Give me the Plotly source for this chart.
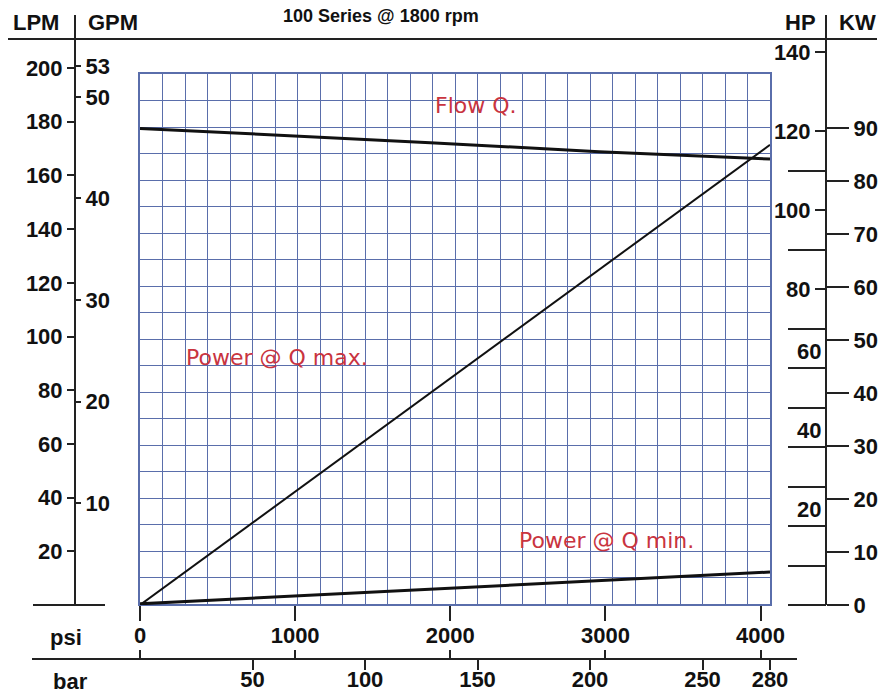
import plotly.graph_objects as go

W, H = 885, 699
def px(x): return x / W
def py(y): return 1 - y / H

# ---- data ----
flow_bar = [0, 129, 204, 280]
flow_lpm = [177.5, 172.2, 168.8, 166.1]
pmax_bar = [0, 280]
pmax_hp = [0, 116.5]
pmin_bar = [0, 280]
pmin_hp = [0.3, 8.35]

lpm_ticks = [20, 40, 60, 80, 100, 120, 140, 160, 180, 200]
gpm_ticks = [10, 20, 30, 40, 50, 53]
hp_ticks = [80, 100, 120, 140]
hp_under_ticks = [20, 40, 60]
hp_long_ticks = [0, 10, 20, 30, 40, 50, 60, 70, 90, 110]
kw_ticks = [0, 10, 20, 30, 40, 50, 60, 70, 80, 90]
psi_ticks = [0, 1000, 2000, 3000, 4000]
bar_ticks = [50, 100, 150, 200, 250, 280]

BAR_MAX = 280
PSI_PER_BAR = 14.5038
LPM_PER_GPM = 3.785
KW_PER_HP = 0.7457

GRID = "#5a6eab"
INK = "#222222"
RED = "#c9343f"
FONT = "Liberation Sans, Arial"
tickfont = dict(family=FONT, size=22, color="#111", weight="bold")

lpm_max = 200 * 590 / 537
hp_max = 590 / 3.95
side_dom = [py(605), py(15)]

fig = go.Figure()

# helper (invisible) traces so that every axis gets drawn
def anchor_trace(xa, ya):
    fig.add_trace(go.Scatter(x=[0], y=[0], xaxis=xa, yaxis=ya, mode="markers",
                             marker=dict(opacity=0, size=1), hoverinfo="skip",
                             showlegend=False))

for xa, ya in [("x", "y"), ("x2", "y"), ("x3", "y"), ("x4", "y"),
               ("x5", "y3"), ("x5", "y5"), ("x5", "y6"), ("x5", "y7")]:
    anchor_trace(xa, ya)

fig.add_trace(go.Scatter(x=flow_bar, y=flow_lpm, mode="lines", xaxis="x5", yaxis="y2",
                         line=dict(color="#111", width=3), name="Flow Q.", showlegend=False))
fig.add_trace(go.Scatter(x=pmax_bar, y=pmax_hp, mode="lines", xaxis="x5", yaxis="y4",
                         line=dict(color="#111", width=2), name="Power @ Q max.", showlegend=False))
fig.add_trace(go.Scatter(x=pmin_bar, y=pmin_hp, mode="lines", xaxis="x5", yaxis="y4",
                         line=dict(color="#111", width=3), name="Power @ Q min.", showlegend=False))

common = dict(automargin=False, showgrid=False, zeroline=False)

fig.update_layout(
    width=W, height=H, margin=dict(l=0, r=0, t=0, b=0),
    paper_bgcolor="white", plot_bgcolor="rgba(0,0,0,0)",
    showlegend=False,
    # grid
    xaxis=dict(domain=[px(140), px(770)], range=[0, BAR_MAX], dtick=10, tick0=0,
               showgrid=True, gridcolor=GRID, gridwidth=1.4, showticklabels=False,
               ticks="", zeroline=False, showline=True, mirror=True, linecolor=GRID,
               linewidth=1.5, anchor="y", automargin=False),
    yaxis=dict(domain=[py(604), py(74)], range=[0, 200], dtick=10, tick0=0,
               showgrid=True, gridcolor=GRID, gridwidth=1.4, showticklabels=False,
               ticks="", zeroline=False, showline=True, mirror=True, linecolor=GRID,
               linewidth=1.5, anchor="x", automargin=False),
    # psi axis below grid
    xaxis2=dict(overlaying="x", anchor="free", position=py(605), side="bottom",
                range=[0, BAR_MAX * PSI_PER_BAR], tickvals=psi_ticks,
                ticks="outside", ticklen=15, tickwidth=2, tickcolor=INK,
                showline=False, tickfont=tickfont, ticklabelstandoff=-4, **common),
    # psi marks above bar line
    xaxis3=dict(overlaying="x", anchor="free", position=py(659), side="top",
                range=[0, BAR_MAX * PSI_PER_BAR], tickvals=psi_ticks,
                ticks="outside", ticklen=9, tickwidth=2, tickcolor=INK,
                showline=False, showticklabels=False, **common),
    # bar axis
    xaxis4=dict(overlaying="x", anchor="free", position=py(659), side="bottom",
                range=[0, BAR_MAX], tickvals=bar_ticks,
                ticks="outside", ticklen=10, tickwidth=2, tickcolor=INK,
                showline=False, tickfont=tickfont, ticklabelstandoff=-9, **common),
    # data x axis (bar), hidden
    xaxis5=dict(domain=[px(140), px(770)], range=[0, BAR_MAX], visible=False,
                anchor="y2", **common),
    # LPM axis
    yaxis2=dict(domain=side_dom, anchor="free", position=px(75), side="left",
                range=[0, lpm_max], tickvals=lpm_ticks,
                ticks="outside", ticklen=7, tickwidth=2, tickcolor=INK,
                showline=True, linecolor=INK, linewidth=2, tickfont=tickfont, **common),
    # GPM axis
    yaxis3=dict(overlaying="y2", anchor="free", position=px(75), side="right",
                range=[0, lpm_max / LPM_PER_GPM], tickvals=gpm_ticks,
                ticks="outside", ticklen=5, tickwidth=2, tickcolor=INK,
                showline=False, tickfont=tickfont, **common),
    # HP axis (labels)
    yaxis4=dict(overlaying="y2", anchor="free", position=px(826), side="left",
                range=[0, hp_max], tickvals=hp_ticks,
                ticks="outside", ticklen=10, tickwidth=2, tickcolor=INK,
                showline=True, linecolor=INK, linewidth=2, tickfont=tickfont, **common),
    # HP long marks
    yaxis5=dict(overlaying="y2", anchor="free", position=px(826), side="left",
                range=[0, hp_max], tickvals=hp_long_ticks,
                ticks="outside", ticklen=38, tickwidth=2, tickcolor=INK,
                showline=False, showticklabels=False, **common),
    # HP underlined labels
    yaxis7=dict(overlaying="y2", anchor="free", position=px(826), side="left",
                range=[0, hp_max], tickvals=hp_under_ticks,
                ticks="outside", ticklen=6, tickwidth=2, tickcolor=INK,
                ticklabelposition="outside top",
                showline=False, tickfont=tickfont, **common),
    # KW axis
    yaxis6=dict(overlaying="y2", anchor="free", position=px(826), side="right",
                range=[0, hp_max * KW_PER_HP], tickvals=kw_ticks,
                ticks="outside", ticklen=22, tickwidth=2, tickcolor=INK,
                showline=False, tickfont=tickfont, **common),
)

line_style = dict(color=INK, width=2)
shapes = [
    dict(type="line", xref="paper", yref="paper", x0=px(8), x1=px(877), y0=py(39), y1=py(39), line=line_style),
    dict(type="line", xref="paper", yref="paper", x0=px(32), x1=px(797), y0=py(659), y1=py(659), line=line_style),
    dict(type="line", xref="paper", yref="paper", x0=px(33), x1=px(105), y0=py(605), y1=py(605), line=line_style),
]
fig.update_layout(shapes=shapes)

hdr = dict(family=FONT, size=22, color="#111", weight="bold")
def ann(text, x, y, font):
    fig.add_annotation(text=text, xref="paper", yref="paper", x=px(x), y=py(y),
                       showarrow=False, font=font, xanchor="center", yanchor="middle")

ann("LPM", 36, 22, hdr)
ann("GPM", 113, 22, hdr)
ann("HP", 800, 22, hdr)
ann("KW", 857, 22, hdr)
ann("psi", 66, 637, hdr)
ann("bar", 70, 681, hdr)
ann("100 Series @ 1800 rpm", 381, 16, dict(family=FONT, size=18, color="#111", weight="bold"))

lab = dict(family="DejaVu Sans, Liberation Sans", size=22, color=RED)
ann("Flow Q.", 476, 105, lab)
ann("Power @ Q max.", 277, 357, lab)
ann("Power @ Q min.", 606, 540, lab)

fig.write_html("out.html")
